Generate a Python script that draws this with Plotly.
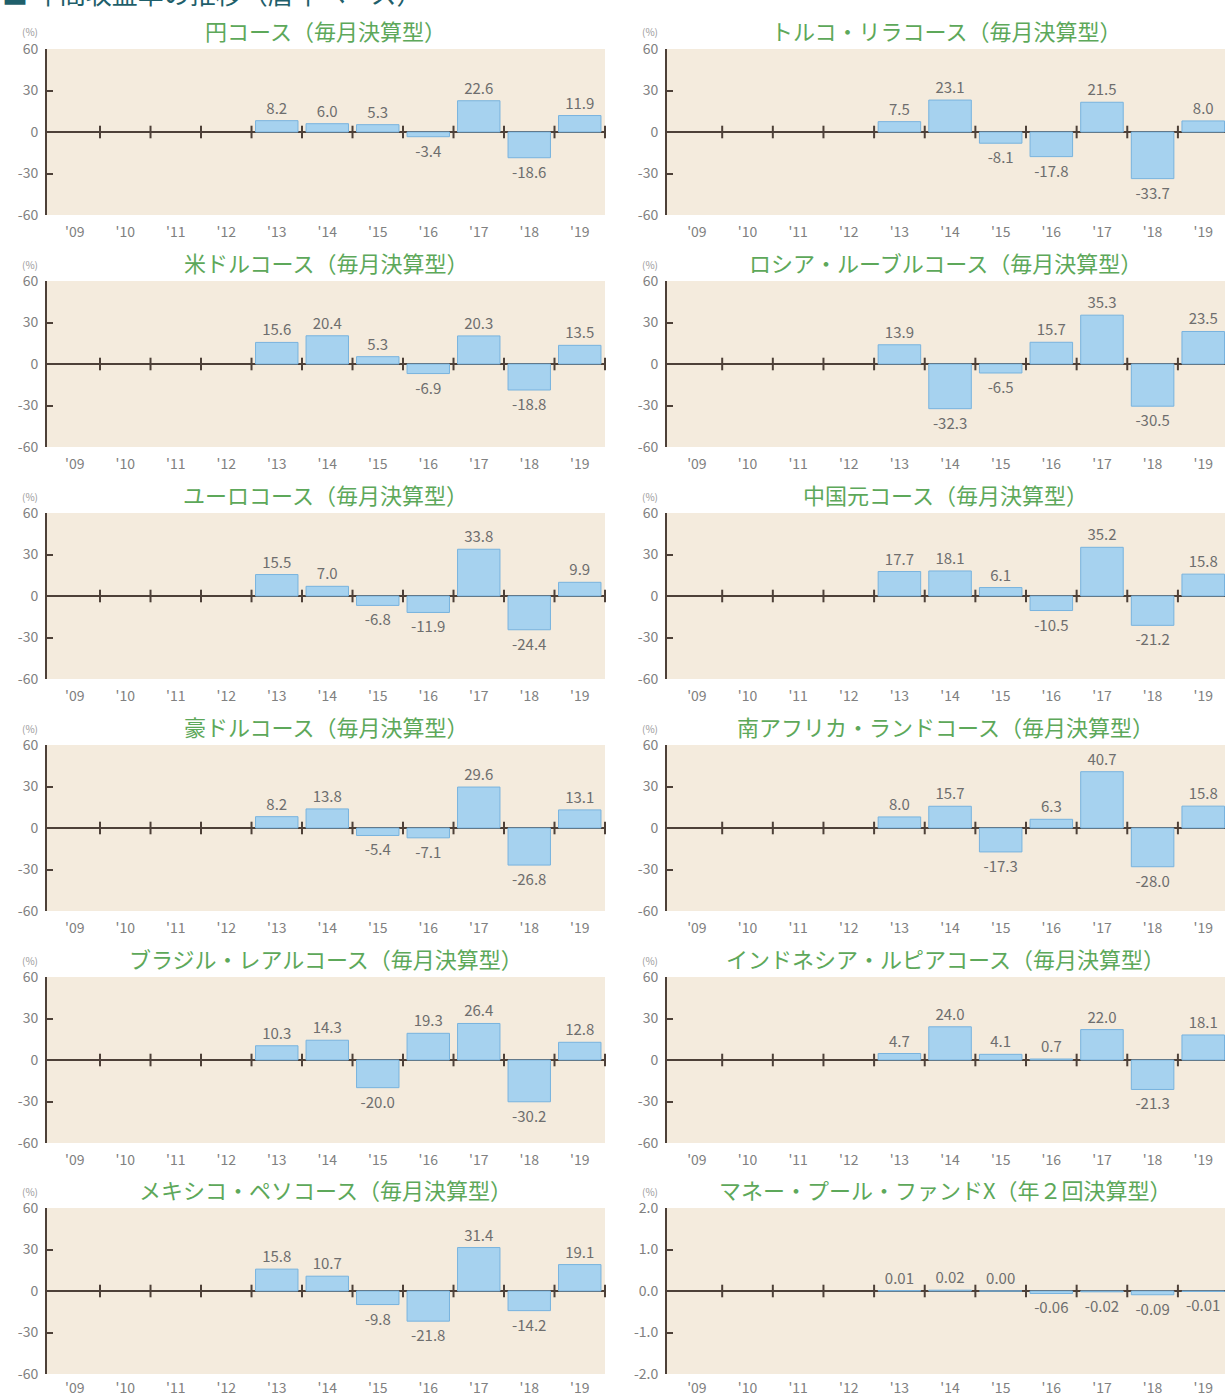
import plotly.graph_objects as go

# ---------------- data ----------------
years = ["'09", "'10", "'11", "'12", "'13", "'14", "'15", "'16", "'17", "'18", "'19"]

titles_left = [
    "円コース（毎月決算型）",
    "米ドルコース（毎月決算型）",
    "ユーロコース（毎月決算型）",
    "豪ドルコース（毎月決算型）",
    "ブラジル・レアルコース（毎月決算型）",
    "メキシコ・ペソコース（毎月決算型）",
]
titles_right = [
    "トルコ・リラコース（毎月決算型）",
    "ロシア・ルーブルコース（毎月決算型）",
    "中国元コース（毎月決算型）",
    "南アフリカ・ランドコース（毎月決算型）",
    "インドネシア・ルピアコース（毎月決算型）",
    "マネー・プール・ファンドX（年２回決算型）",
]

NA = [None, None, None, None]
yen = NA + [8.2, 6.0, 5.3, -3.4, 22.6, -18.6, 11.9]
usd = NA + [15.6, 20.4, 5.3, -6.9, 20.3, -18.8, 13.5]
eur = NA + [15.5, 7.0, -6.8, -11.9, 33.8, -24.4, 9.9]
aud = NA + [8.2, 13.8, -5.4, -7.1, 29.6, -26.8, 13.1]
brl = NA + [10.3, 14.3, -20.0, 19.3, 26.4, -30.2, 12.8]
mxn = NA + [15.8, 10.7, -9.8, -21.8, 31.4, -14.2, 19.1]
tryl = NA + [7.5, 23.1, -8.1, -17.8, 21.5, -33.7, 8.0]
rub = NA + [13.9, -32.3, -6.5, 15.7, 35.3, -30.5, 23.5]
cny = NA + [17.7, 18.1, 6.1, -10.5, 35.2, -21.2, 15.8]
zar = NA + [8.0, 15.7, -17.3, 6.3, 40.7, -28.0, 15.8]
idr = NA + [4.7, 24.0, 4.1, 0.7, 22.0, -21.3, 18.1]
mpf = NA + [0.01, 0.02, 0.00, -0.06, -0.02, -0.09, -0.01]

pct_ticks = [60, 30, 0, -30, -60]
pct_ticktext = ["60", "30", "0", "-30", "-60"]
mpf_ticks = [2.0, 1.0, 0.0, -1.0, -2.0]
mpf_ticktext = ["2.0", "1.0", "0.0", "-1.0", "-2.0"]

# ---------------- layout helpers ----------------
W, H = 1225, 1398
tops = [49, 281, 513, 745, 977, 1208]
PH = 166
dom_left = [47 / W, 605 / W]
dom_right = [667 / W, 1.0]
range_left = [-0.55, 10.5]
range_right = [-0.59, 10.43]

BEIGE = "#f4ebdd"
AXC = "#4d4038"
BAR = "#a6d2ef"
BAR_LINE = "#78b3de"
TXT = "#6e6e6e"
GREEN = "#5da85a"
FONT = "Noto Sans CJK JP"

panels = []
for i, (t, d) in enumerate(zip(titles_left, [yen, usd, eur, aud, brl, mxn])):
    panels.append(dict(title=t, data=d, col=0, row=i, dec=1,
                       tv=pct_ticks, tt=pct_ticktext, yr=[-60, 60]))
for i, (t, d) in enumerate(zip(titles_right, [tryl, rub, cny, zar, idr, mpf])):
    if i == 5:
        panels.append(dict(title=t, data=d, col=1, row=i, dec=2,
                           tv=mpf_ticks, tt=mpf_ticktext, yr=[-2, 2]))
    else:
        panels.append(dict(title=t, data=d, col=1, row=i, dec=1,
                           tv=pct_ticks, tt=pct_ticktext, yr=[-60, 60]))

fig = go.Figure()
layout = dict(
    width=W, height=H,
    margin=dict(l=0, r=0, t=0, b=0, autoexpand=False),
    paper_bgcolor="white",
    plot_bgcolor=BEIGE,
    showlegend=False,
    font=dict(family=FONT, color=TXT),
)
annotations = []

xpos = list(range(len(years)))
bounds = [k + 0.5 for k in range(len(years))]

for n, p in enumerate(panels):
    idx = n + 1
    xa = "x" if idx == 1 else f"x{idx}"
    ya = "y" if idx == 1 else f"y{idx}"
    xkey = "xaxis" if idx == 1 else f"xaxis{idx}"
    ykey = "yaxis" if idx == 1 else f"yaxis{idx}"
    top = tops[p["row"]]
    y0 = 1 - (top + PH) / H
    y1 = 1 - top / H
    xdom = dom_left if p["col"] == 0 else dom_right
    xr = range_left if p["col"] == 0 else range_right

    texts = [("" if v is None else f"{v:.{p['dec']}f}") for v in p["data"]]
    fig.add_trace(go.Bar(
        x=xpos, y=p["data"], text=texts, textposition="outside",
        textfont=dict(size=15, color=TXT, family=FONT),
        marker=dict(color=BAR, line=dict(color=BAR_LINE, width=1)),
        width=0.84, cliponaxis=False, xaxis=xa, yaxis=ya, hoverinfo="skip",
    ))
    # boundary tick marks along the zero line
    fig.add_trace(go.Scatter(
        x=bounds, y=[0] * len(bounds), mode="markers",
        marker=dict(symbol="line-ns", size=9, line=dict(color=AXC, width=2)),
        cliponaxis=False, xaxis=xa, yaxis=ya, hoverinfo="skip",
    ))

    layout[xkey] = dict(
        domain=xdom, range=xr, anchor=ya, automargin=False,
        showgrid=False, zeroline=False, showline=False,
        tickvals=xpos, ticktext=years, ticks="",
        tickfont=dict(size=14, color="#808080", family=FONT),
        ticklabelstandoff=(7 if p["row"] < 5 else 4), fixedrange=True,
    )
    layout[ykey] = dict(
        domain=[y0, y1], range=p["yr"], anchor=xa, automargin=False,
        showgrid=False, zeroline=True, zerolinecolor=AXC, zerolinewidth=2,
        showline=True, linecolor=AXC, linewidth=2,
        ticks="inside", ticklen=6, tickwidth=2, tickcolor=AXC,
        tickvals=p["tv"], ticktext=p["tt"],
        tickfont=dict(size=14, color="#808080", family=FONT),
        ticklabelstandoff=4, fixedrange=True,
    )

    # panel title
    annotations.append(dict(
        text=p["title"], xref="paper", yref="paper",
        x=(xdom[0] + xdom[1]) / 2,
        y=1 - (top - 19) / H, xanchor="center", yanchor="middle",
        showarrow=False, font=dict(size=22, color=GREEN, family=FONT),
    ))
    # (%) unit label
    annotations.append(dict(
        text="(%)", xref="paper", yref="paper",
        x=(30 if p["col"] == 0 else 650) / W, y=1 - (top - 17) / H,
        xanchor="center", yanchor="middle", showarrow=False,
        font=dict(size=10, color="#9a9a9a", family=FONT),
    ))

# header (cut off at top of the image)
annotations.append(dict(
    text="■ 年間収益率の推移（暦年ベース）", xref="paper", yref="paper",
    x=0.0, y=1 - 13 / H, xanchor="left", yanchor="bottom", showarrow=False,
    font=dict(size=26, color="#1f5f6b", family=FONT),
))

layout["annotations"] = annotations
fig.update_layout(**layout)
fig.write_html(
    "out.html",
    config={"displayModeBar": False},
    post_script="document.body.style.margin='0';document.body.style.overflow='hidden';",
)
